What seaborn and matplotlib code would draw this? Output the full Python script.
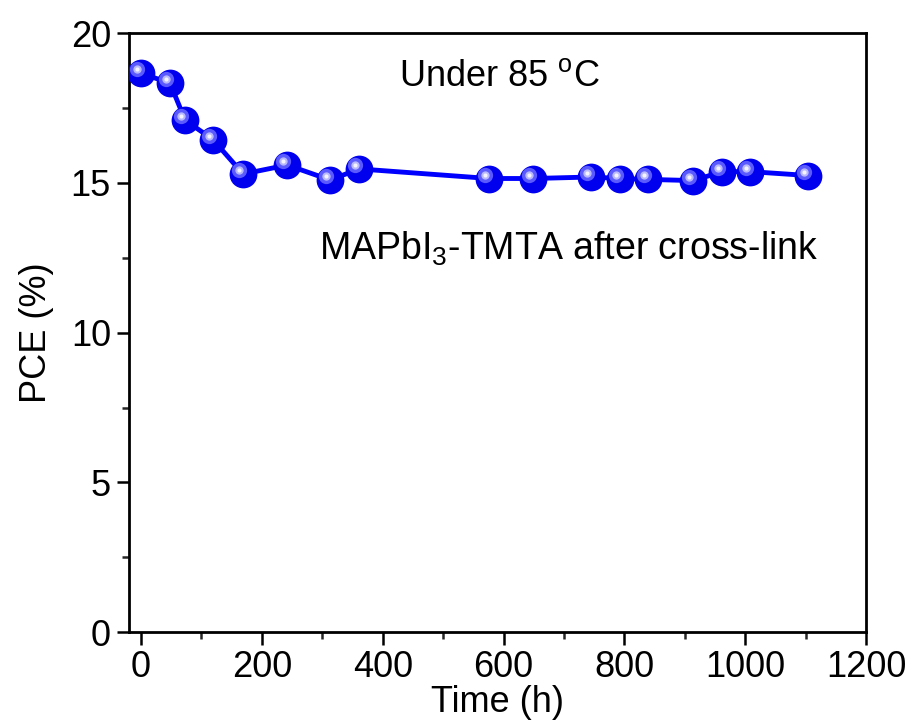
import numpy as np
import pandas as pd
import matplotlib
matplotlib.use("Agg")
import matplotlib.pyplot as plt
import matplotlib.transforms as mtransforms
import seaborn as sns

# ================================
# Data
# ================================

time_h = [0, 48, 73, 119, 169, 242, 313, 361, 576, 649, 745, 792, 839, 914, 962, 1008, 1104]
pce = [18.67, 18.33, 17.1, 16.45, 15.3, 15.6, 15.1, 15.47, 15.15, 15.15, 15.2, 15.15, 15.12, 15.08, 15.38, 15.38, 15.25]

df = pd.DataFrame({"Time (h)": time_h, "PCE (%)": pce})

# ================================
# Style
# ================================

sns.set_style("ticks")
plt.rcParams["font.family"] = ["Liberation Sans", "DejaVu Sans"]
plt.rcParams["mathtext.fontset"] = "custom"
plt.rcParams["mathtext.rm"] = "Liberation Sans"
plt.rcParams["mathtext.it"] = "Liberation Sans"
plt.rcParams["text.color"] = "black"
plt.rcParams["axes.labelcolor"] = "black"

fig = plt.figure(figsize=(9.12, 7.24), dpi=100)
ax = fig.add_axes([0.1414, 0.127, 0.8082, 0.827])

sns.lineplot(
    data=df,
    x="Time (h)",
    y="PCE (%)",
    ax=ax,
    color="#0000ff",
    linewidth=3.5,
    marker="o",
    markersize=20,
    markeredgewidth=0,
    markerfacecolor="#0000ee",
    zorder=3,
)

# glossy highlight on the balls
shift = mtransforms.ScaledTranslation(-4 / 100, 4 / 100, fig.dpi_scale_trans)
ax.plot(time_h, pce, linestyle="none", marker="o", markersize=11,
        markerfacecolor="#5a5aff", markeredgewidth=0,
        transform=ax.transData + shift, zorder=4)
ax.plot(time_h, pce, linestyle="none", marker="o", markersize=6,
        markerfacecolor="#b8b8ff", markeredgewidth=0,
        transform=ax.transData + shift, zorder=5)
ax.plot(time_h, pce, linestyle="none", marker="o", markersize=3,
        markerfacecolor="#f4f4ff", markeredgewidth=0,
        transform=ax.transData + shift, zorder=6)

# ================================
# Axes
# ================================

ax.set_xlim(-20, 1200)
ax.set_ylim(0, 20)
ax.set_xticks([0, 200, 400, 600, 800, 1000, 1200])
ax.set_yticks([0, 5, 10, 15, 20])
ax.set_xticks(np.arange(100, 1200, 200), minor=True)
ax.set_yticks(np.arange(2.5, 20, 5), minor=True)

ax.tick_params(axis="both", which="major", direction="out", length=9, width=1.8,
               labelsize=26, colors="black", pad=4)
ax.tick_params(axis="both", which="minor", direction="out", length=5, width=1.8)
ax.tick_params(top=False, right=False, which="both")

for side in ["top", "right", "left", "bottom"]:
    ax.spines[side].set_visible(True)
    ax.spines[side].set_linewidth(2)
    ax.spines[side].set_color("black")

ax.set_xlabel("Time (h)", fontsize=26, labelpad=0)
ax.set_ylabel("PCE (%)", fontsize=26, labelpad=12)

ax.text(0.503, 0.928, r"Under 85 $^{\mathrm{o}}$C", transform=ax.transAxes,
        fontsize=26, va="center", ha="center")
ax.text(0.597, 0.64, r"MAPbI$_{3}$-TMTA after cross-link", transform=ax.transAxes,
        fontsize=27, va="center", ha="center")

fig.savefig("out.png", dpi=100)
